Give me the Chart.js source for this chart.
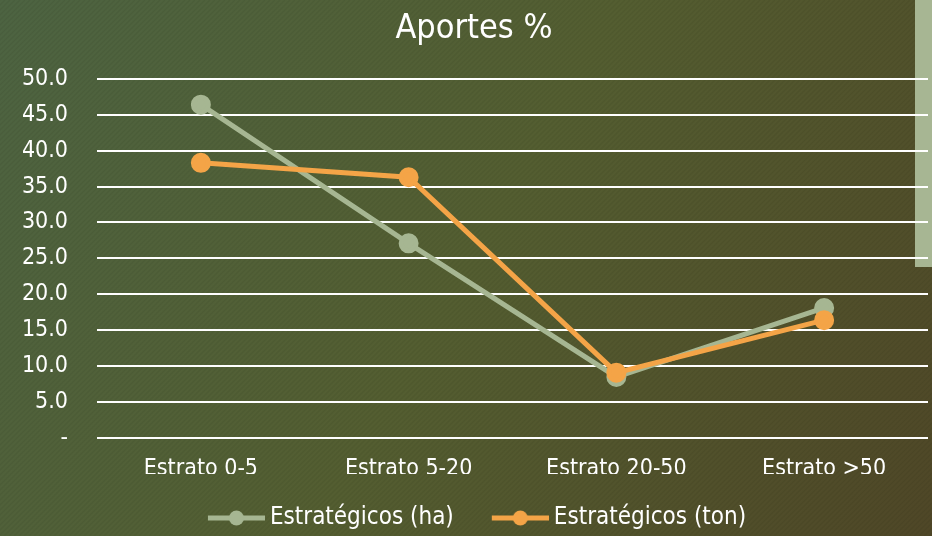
<!DOCTYPE html>
<html>
<head>
<meta charset="utf-8">
<script src="https://cdn.jsdelivr.net/npm/chart.js@4.4.0/dist/chart.umd.min.js"></script>
<style>
    html, body { margin: 0; padding: 0; background: #4e5833; }
    #wrap { width: 932px; height: 536px; position: relative; }
</style>
</head>
<body>
<div id="wrap"><canvas id="lineChart"></canvas></div>
<script>
const categories = ['Estrato 0-5', 'Estrato 5-20', 'Estrato 20-50', 'Estrato >50'];
const haValues = [46.4, 27.1, 8.5, 18.1];
const tonValues = [38.3, 36.3, 9.1, 16.4];
const seriesNames = ['Estratégicos (ha)', 'Estratégicos (ton)'];
const seriesColors = ['#a6b692', '#f4a447'];

const FONT = "'DejaVu Sans Condensed', 'DejaVu Sans', sans-serif";

// legend marker: line with a dot, wider than the legend box so it sits close to the text
function legendMarker(color) {
    const c = document.createElement('canvas');
    c.width = 70;
    c.height = 18;
    const g = c.getContext('2d');
    g.strokeStyle = color;
    g.lineWidth = 5;
    g.beginPath();
    g.moveTo(13, 9);
    g.lineTo(70, 9);
    g.stroke();
    g.fillStyle = color;
    g.beginPath();
    g.arc(41.5, 9, 7.5, 0, Math.PI * 2);
    g.fill();
    return c;
}

const background = {
    id: 'background',
    beforeDraw(chart) {
        const ctx = chart.ctx;
        const w = chart.width, h = chart.height;
        ctx.save();
        const grad = ctx.createLinearGradient(0, 0, w, h);
        grad.addColorStop(0, '#4d6442');
        grad.addColorStop(0.5, '#545e31');
        grad.addColorStop(1, '#4f4727');
        ctx.fillStyle = grad;
        ctx.fillRect(0, 0, w, h);
        // faint diagonal hatching
        ctx.strokeStyle = 'rgba(0,0,0,0.05)';
        ctx.lineWidth = 1.5;
        for (let x = -h; x < w + h; x += 5) {
            ctx.beginPath();
            ctx.moveTo(x, h);
            ctx.lineTo(x + h, 0);
            ctx.stroke();
        }
        // light strip on the right
        ctx.fillStyle = '#a7b693';
        ctx.fillRect(915, 0, w - 915, 267);
        ctx.restore();
    }
};

const ctx = document.getElementById('lineChart').getContext('2d');
new Chart(ctx, {
    type: 'line',
    data: {
        labels: categories,
        datasets: [{
            label: seriesNames[0],
            data: haValues,
            borderColor: seriesColors[0],
            backgroundColor: seriesColors[0],
            borderWidth: 5,
            pointRadius: 7.5,
            pointHoverRadius: 7.5,
            order: 2
        }, {
            label: seriesNames[1],
            data: tonValues,
            borderColor: seriesColors[1],
            backgroundColor: seriesColors[1],
            borderWidth: 5,
            pointRadius: 7.5,
            pointHoverRadius: 7.5,
            order: 1
        }]
    },
    options: {
        responsive: true,
        maintainAspectRatio: false,
        animation: false,
        layout: { autoPadding: false, padding: { left: 20, right: 4, top: 0, bottom: 0 } },
        plugins: {
            title: {
                display: true,
                text: 'Aportes %',
                color: '#ffffff',
                font: { family: FONT, size: 34, weight: 'normal' },
                padding: { top: 9, bottom: 29 }
            },
            legend: {
                position: 'bottom',
                maxHeight: 62,
                labels: {
                    color: '#ffffff',
                    font: { family: FONT, size: 24 },
                    usePointStyle: true,
                    pointStyleWidth: 56,
                    padding: 32,
                    generateLabels: (chart) => chart.data.datasets.map((ds, i) => ({
                        text: ds.label,
                        fontColor: '#ffffff',
                        pointStyle: legendMarker(seriesColors[i]),
                        strokeStyle: 'transparent',
                        fillStyle: 'transparent',
                        lineWidth: 0,
                        datasetIndex: i
                    }))
                }
            },
            tooltip: { enabled: false }
        },
        scales: {
            x: {
                offset: true,
                afterFit: (axis) => { axis.height = 36; axis.paddingLeft = 0; axis.paddingRight = 0; },
                grid: { display: false, drawTicks: false },
                border: { display: false },
                ticks: { color: '#ffffff', font: { family: FONT, size: 23 }, padding: 17 }
            },
            y: {
                min: 0,
                max: 50,
                afterFit: (axis) => { axis.width = 77; },
                grid: { color: '#ffffff', lineWidth: 2, drawTicks: false },
                border: { display: false },
                ticks: {
                    stepSize: 5,
                    color: '#ffffff',
                    font: { family: FONT, size: 23 },
                    padding: 29,
                    callback: (v) => v === 0 ? '-' : v.toFixed(1)
                }
            }
        }
    },
    plugins: [background]
});
</script>
</body>
</html>
